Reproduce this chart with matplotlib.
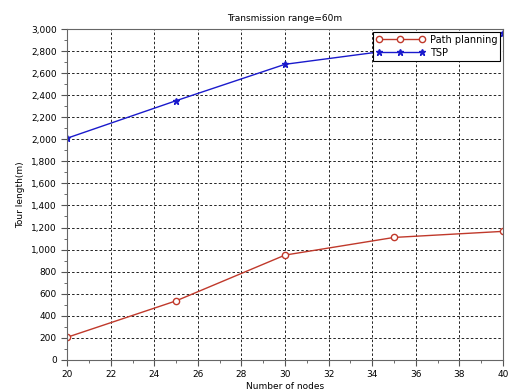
import matplotlib.pyplot as plt
from matplotlib.ticker import FuncFormatter, MultipleLocator

# data
nodes = [20, 25, 30, 35, 40]
path_planning = [205, 535, 950, 1110, 1165]
tsp = [2010, 2350, 2680, 2810, 2960]

fig = plt.figure(figsize=(5.09, 3.92), dpi=100)
ax = fig.add_axes([0.132, 0.082, 0.856, 0.844])

ax.plot(nodes, path_planning, color='#c0392b', marker='o', markersize=4.5,
        markerfacecolor='white', markeredgecolor='#c0392b', linewidth=1,
        label='Path planning')
ax.plot(nodes, tsp, color='#1a1acc', marker='*', markersize=4.5,
        linewidth=1, label='TSP')

ax.set_xlim(20, 40)
ax.set_ylim(0, 3000)
ax.xaxis.set_major_locator(MultipleLocator(2))
ax.xaxis.set_minor_locator(MultipleLocator(1))
ax.yaxis.set_major_locator(MultipleLocator(200))
ax.yaxis.set_minor_locator(MultipleLocator(100))
ax.yaxis.set_major_formatter(FuncFormatter(lambda v, p: f"{int(v):,}"))
ax.tick_params(labelsize=6.5, length=4, width=0.8, color='#555555')
ax.tick_params(which='minor', length=2, color='#555555')

ax.grid(True, which='major', color='black', linestyle=(0, (3, 2.5)), linewidth=0.6)
for sp in ax.spines.values():
    sp.set_color('#666666')

ax.set_title("Transmission range=60m", fontsize=6.5)
ax.set_xlabel("Number of nodes", fontsize=6.5, labelpad=2)
ax.set_ylabel("Tour length(m)", fontsize=6.5)

leg = ax.legend(loc='upper right', fontsize=7, frameon=True, fancybox=False,
                borderpad=0.3, handlelength=5, handletextpad=0.5,
                borderaxespad=0.3, labelspacing=0.3, numpoints=3)
leg.get_frame().set_edgecolor('black')
leg.get_frame().set_linewidth(0.8)
leg.get_frame().set_alpha(1)

plt.savefig("out.png", dpi=100)
